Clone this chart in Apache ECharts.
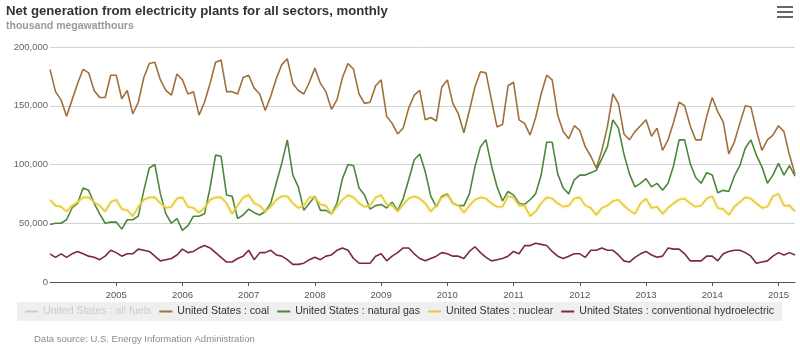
<!DOCTYPE html>
<html>
<head>
<meta charset="utf-8">
<style>
  html, body { margin: 0; padding: 0; background: #fff; }
  #chart { width: 800px; height: 352px; }
</style>
<script src="https://cdn.jsdelivr.net/npm/echarts@6/dist/echarts.min.js"></script>
</head>
<body>
<div id="chart"></div>
<script>
// monthly, Jan 2004 .. Apr 2015
var months = [];
for (var y = 2004; y <= 2015; y++) {
  for (var m = 1; m <= 12; m++) {
    if (y === 2015 && m > 4) break;
    months.push(y + '-' + (m < 10 ? '0' + m : m));
  }
}

var yTicks = [0, 50000, 100000, 150000, 200000];

var allFuels = [];

var coal = [
  181000, 162000, 155000, 141000, 155000, 169000, 181000, 178000, 163000, 157000, 157000, 176000,
  176000, 156000, 163000, 143000, 153000, 174000, 186000, 187000, 172000, 163000, 159000, 177000,
  172000, 160000, 162000, 142000, 153000, 169000, 187000, 189000, 162000, 162000, 160000, 174000,
  176000, 165000, 160000, 146000, 158000, 173000, 185000, 190000, 169000, 163000, 160000, 170000,
  182000, 169000, 162000, 147000, 155000, 174000, 186000, 181000, 160000, 152000, 153000, 167000,
  172000, 141000, 135000, 126000, 131000, 148000, 159000, 163000, 138000, 140000, 137000, 166000,
  172000, 152000, 143000, 127000, 146000, 166000, 179000, 178000, 155000, 132000, 134000, 167000,
  170000, 138000, 135000, 125000, 140000, 160000, 176000, 172000, 142000, 128000, 122000, 133000,
  129000, 115000, 107000, 97000, 112000, 132000, 160000, 152000, 126000, 121000, 128000, 133000,
  138000, 124000, 131000, 112000, 121000, 136000, 153000, 150000, 133000, 121000, 121000, 141000,
  157000, 145000, 136000, 109000, 119000, 135000, 150000, 149000, 129000, 112000, 121000, 125000,
  133000, 128000, 108000, 92000
];

var gas = [
  49000, 50000, 50000, 53000, 63000, 67000, 80000, 78000, 67000, 58000, 50000, 51000,
  51000, 45000, 53000, 53000, 56000, 78000, 97000, 100000, 75000, 58000, 50000, 54000,
  44000, 48000, 56000, 56000, 58000, 80000, 108000, 107000, 74000, 73000, 54000, 57000,
  62000, 59000, 57000, 60000, 67000, 84000, 101000, 121000, 91000, 81000, 61000, 67000,
  73000, 61000, 61000, 58000, 67000, 88000, 100000, 99000, 80000, 74000, 62000, 65000,
  66000, 63000, 68000, 61000, 71000, 87000, 104000, 109000, 94000, 73000, 64000, 73000,
  75000, 67000, 65000, 65000, 75000, 98000, 115000, 121000, 99000, 81000, 69000, 77000,
  74000, 67000, 66000, 70000, 75000, 91000, 119000, 119000, 92000, 80000, 75000, 87000,
  91000, 91000, 93000, 95000, 105000, 115000, 138000, 131000, 109000, 92000, 81000, 84000,
  88000, 81000, 84000, 78000, 84000, 99000, 121000, 121000, 101000, 89000, 84000, 93000,
  91000, 76000, 78000, 77000, 90000, 99000, 114000, 121000, 108000, 98000, 84000, 91000,
  101000, 91000, 99000, 90000
];

var nuclear = [
  70000, 65000, 64000, 60000, 65000, 68000, 72000, 72000, 68000, 65000, 60000, 68000,
  70000, 62000, 61000, 56000, 64000, 70000, 72000, 72000, 67000, 63000, 64000, 71000,
  72000, 64000, 63000, 59000, 63000, 70000, 72000, 72000, 67000, 58000, 65000, 72000,
  74000, 67000, 65000, 60000, 64000, 70000, 73000, 73000, 67000, 63000, 65000, 72000,
  72000, 66000, 65000, 58000, 64000, 70000, 74000, 72000, 67000, 64000, 65000, 72000,
  74000, 66000, 65000, 60000, 66000, 71000, 73000, 71000, 67000, 60000, 65000, 72000,
  74000, 67000, 65000, 59000, 65000, 70000, 72000, 71000, 67000, 64000, 64000, 73000,
  72000, 65000, 65000, 56000, 60000, 67000, 72000, 71000, 67000, 64000, 65000, 71000,
  72000, 65000, 63000, 57000, 63000, 65000, 69000, 70000, 65000, 61000, 58000, 67000,
  71000, 63000, 64000, 58000, 63000, 67000, 70000, 71000, 67000, 64000, 65000, 71000,
  73000, 63000, 62000, 57000, 64000, 68000, 72000, 71000, 67000, 63000, 64000, 73000,
  75000, 65000, 65000, 60000
];

var hydro = [
  24000, 21000, 24000, 21000, 24000, 26000, 24000, 22000, 21000, 19000, 22000, 27000,
  25000, 22000, 24000, 24000, 28000, 27000, 26000, 22000, 18000, 19000, 20000, 23000,
  28000, 25000, 26000, 29000, 31000, 29000, 25000, 21000, 17000, 17000, 20000, 22000,
  27000, 19000, 25000, 25000, 27000, 23000, 22000, 19000, 15000, 15000, 16000, 19000,
  21000, 19000, 22000, 23000, 27000, 29000, 27000, 20000, 16000, 16000, 16000, 22000,
  24000, 18000, 22000, 25000, 29000, 29000, 24000, 20000, 18000, 20000, 22000, 25000,
  24000, 22000, 22000, 20000, 26000, 30000, 25000, 21000, 18000, 19000, 20000, 22000,
  26000, 24000, 31000, 31000, 33000, 32000, 31000, 26000, 22000, 20000, 22000, 24000,
  24000, 21000, 27000, 27000, 29000, 27000, 27000, 23000, 18000, 17000, 21000, 24000,
  26000, 23000, 21000, 22000, 29000, 28000, 28000, 24000, 18000, 18000, 18000, 22000,
  22000, 18000, 24000, 26000, 27000, 27000, 25000, 22000, 16000, 17000, 18000, 22000,
  25000, 23000, 25000, 23000
];

var names = [
  'United States : all fuels',
  'United States : coal',
  'United States : natural gas',
  'United States : nuclear',
  'United States : conventional hydroelectric'
];

var FONT = '"Liberation Sans", Arial, sans-serif';

// ticks / labels only on January, not at the very first point
function isYearStart(index, value) {
  return index > 0 && /-01$/.test(value);
}

function lineSeries(name, data, color, extra) {
  var s = {
    name: name,
    type: 'line',
    data: data,
    showSymbol: false,
    symbol: 'none',
    lineStyle: { color: color, width: 1.6 },
    itemStyle: { color: color },
    emphasis: { disabled: true }
  };
  if (extra) s.lineStyle = Object.assign(s.lineStyle, extra);
  return s;
}

var chart = echarts.init(document.getElementById('chart'));

chart.setOption({
  animation: false,
  backgroundColor: '#ffffff',
  textStyle: { fontFamily: FONT },
  title: {
    text: 'Net generation from electricity plants for all sectors, monthly',
    subtext: 'thousand megawatthours',
    left: 1,
    top: 0,
    itemGap: 3,
    textStyle: { fontFamily: FONT, fontSize: 13.2, fontWeight: 'bold', color: '#333333' },
    subtextStyle: { fontFamily: FONT, fontSize: 10.5, fontWeight: 'bold', color: '#999999' }
  },
  legend: {
    data: names,
    selected: { 'United States : all fuels': false },
    left: 17,
    top: 302,
    padding: [4, 8],
    backgroundColor: '#efefef',
    icon: 'rect',
    itemWidth: 13,
    itemHeight: 2,
    itemGap: 8,
    inactiveColor: '#cccccc',
    textStyle: { fontFamily: FONT, fontSize: 10.6, color: '#333333' }
  },
  grid: { left: 50, right: 5, top: 47, bottom: 70, containLabel: false },
  xAxis: {
    type: 'category',
    data: months,
    boundaryGap: false,
    axisLine: { lineStyle: { color: '#555555', width: 1 } },
    axisTick: { interval: isYearStart, length: 4, lineStyle: { color: '#555555' } },
    axisLabel: {
      interval: isYearStart,
      formatter: function (v) { return v.slice(0, 4); },
      fontFamily: FONT,
      fontSize: 9.5,
      color: '#555555',
      margin: 8
    },
    splitLine: { show: false }
  },
  yAxis: {
    type: 'value',
    min: yTicks[0],
    max: yTicks[yTicks.length - 1],
    interval: yTicks[1] - yTicks[0],
    axisLine: { show: false },
    axisTick: { show: false },
    axisLabel: {
      fontFamily: FONT,
      fontSize: 9.5,
      color: '#666666',
      margin: 2,
      formatter: function (v) { return v.toLocaleString('en-US'); }
    },
    splitLine: { lineStyle: { color: '#d4d4d4', width: 1 } }
  },
  series: [
    lineSeries(names[0], allFuels, '#bbbbbb'),
    lineSeries(names[1], coal, '#a0703a'),
    lineSeries(names[2], gas, '#4a873a'),
    lineSeries(names[3], nuclear, '#e6c93a', { shadowBlur: 3, shadowColor: 'rgba(240,228,110,0.8)' }),
    lineSeries(names[4], hydro, '#7a2b38')
  ],
  graphic: [
    {
      type: 'group',
      right: 7,
      top: 6,
      children: [
        { type: 'rect', shape: { x: 0, y: 0, width: 16, height: 2 }, style: { fill: '#666666' } },
        { type: 'rect', shape: { x: 0, y: 5, width: 16, height: 2 }, style: { fill: '#666666' } },
        { type: 'rect', shape: { x: 0, y: 10, width: 16, height: 2 }, style: { fill: '#666666' } }
      ]
    },
    {
      type: 'text',
      left: 34,
      top: 334,
      style: {
        text: 'Data source: U.S. Energy Information Administration',
        font: '9.5px ' + FONT,
        fill: '#8a8a8a'
      }
    }
  ]
});
</script>
</body>
</html>
